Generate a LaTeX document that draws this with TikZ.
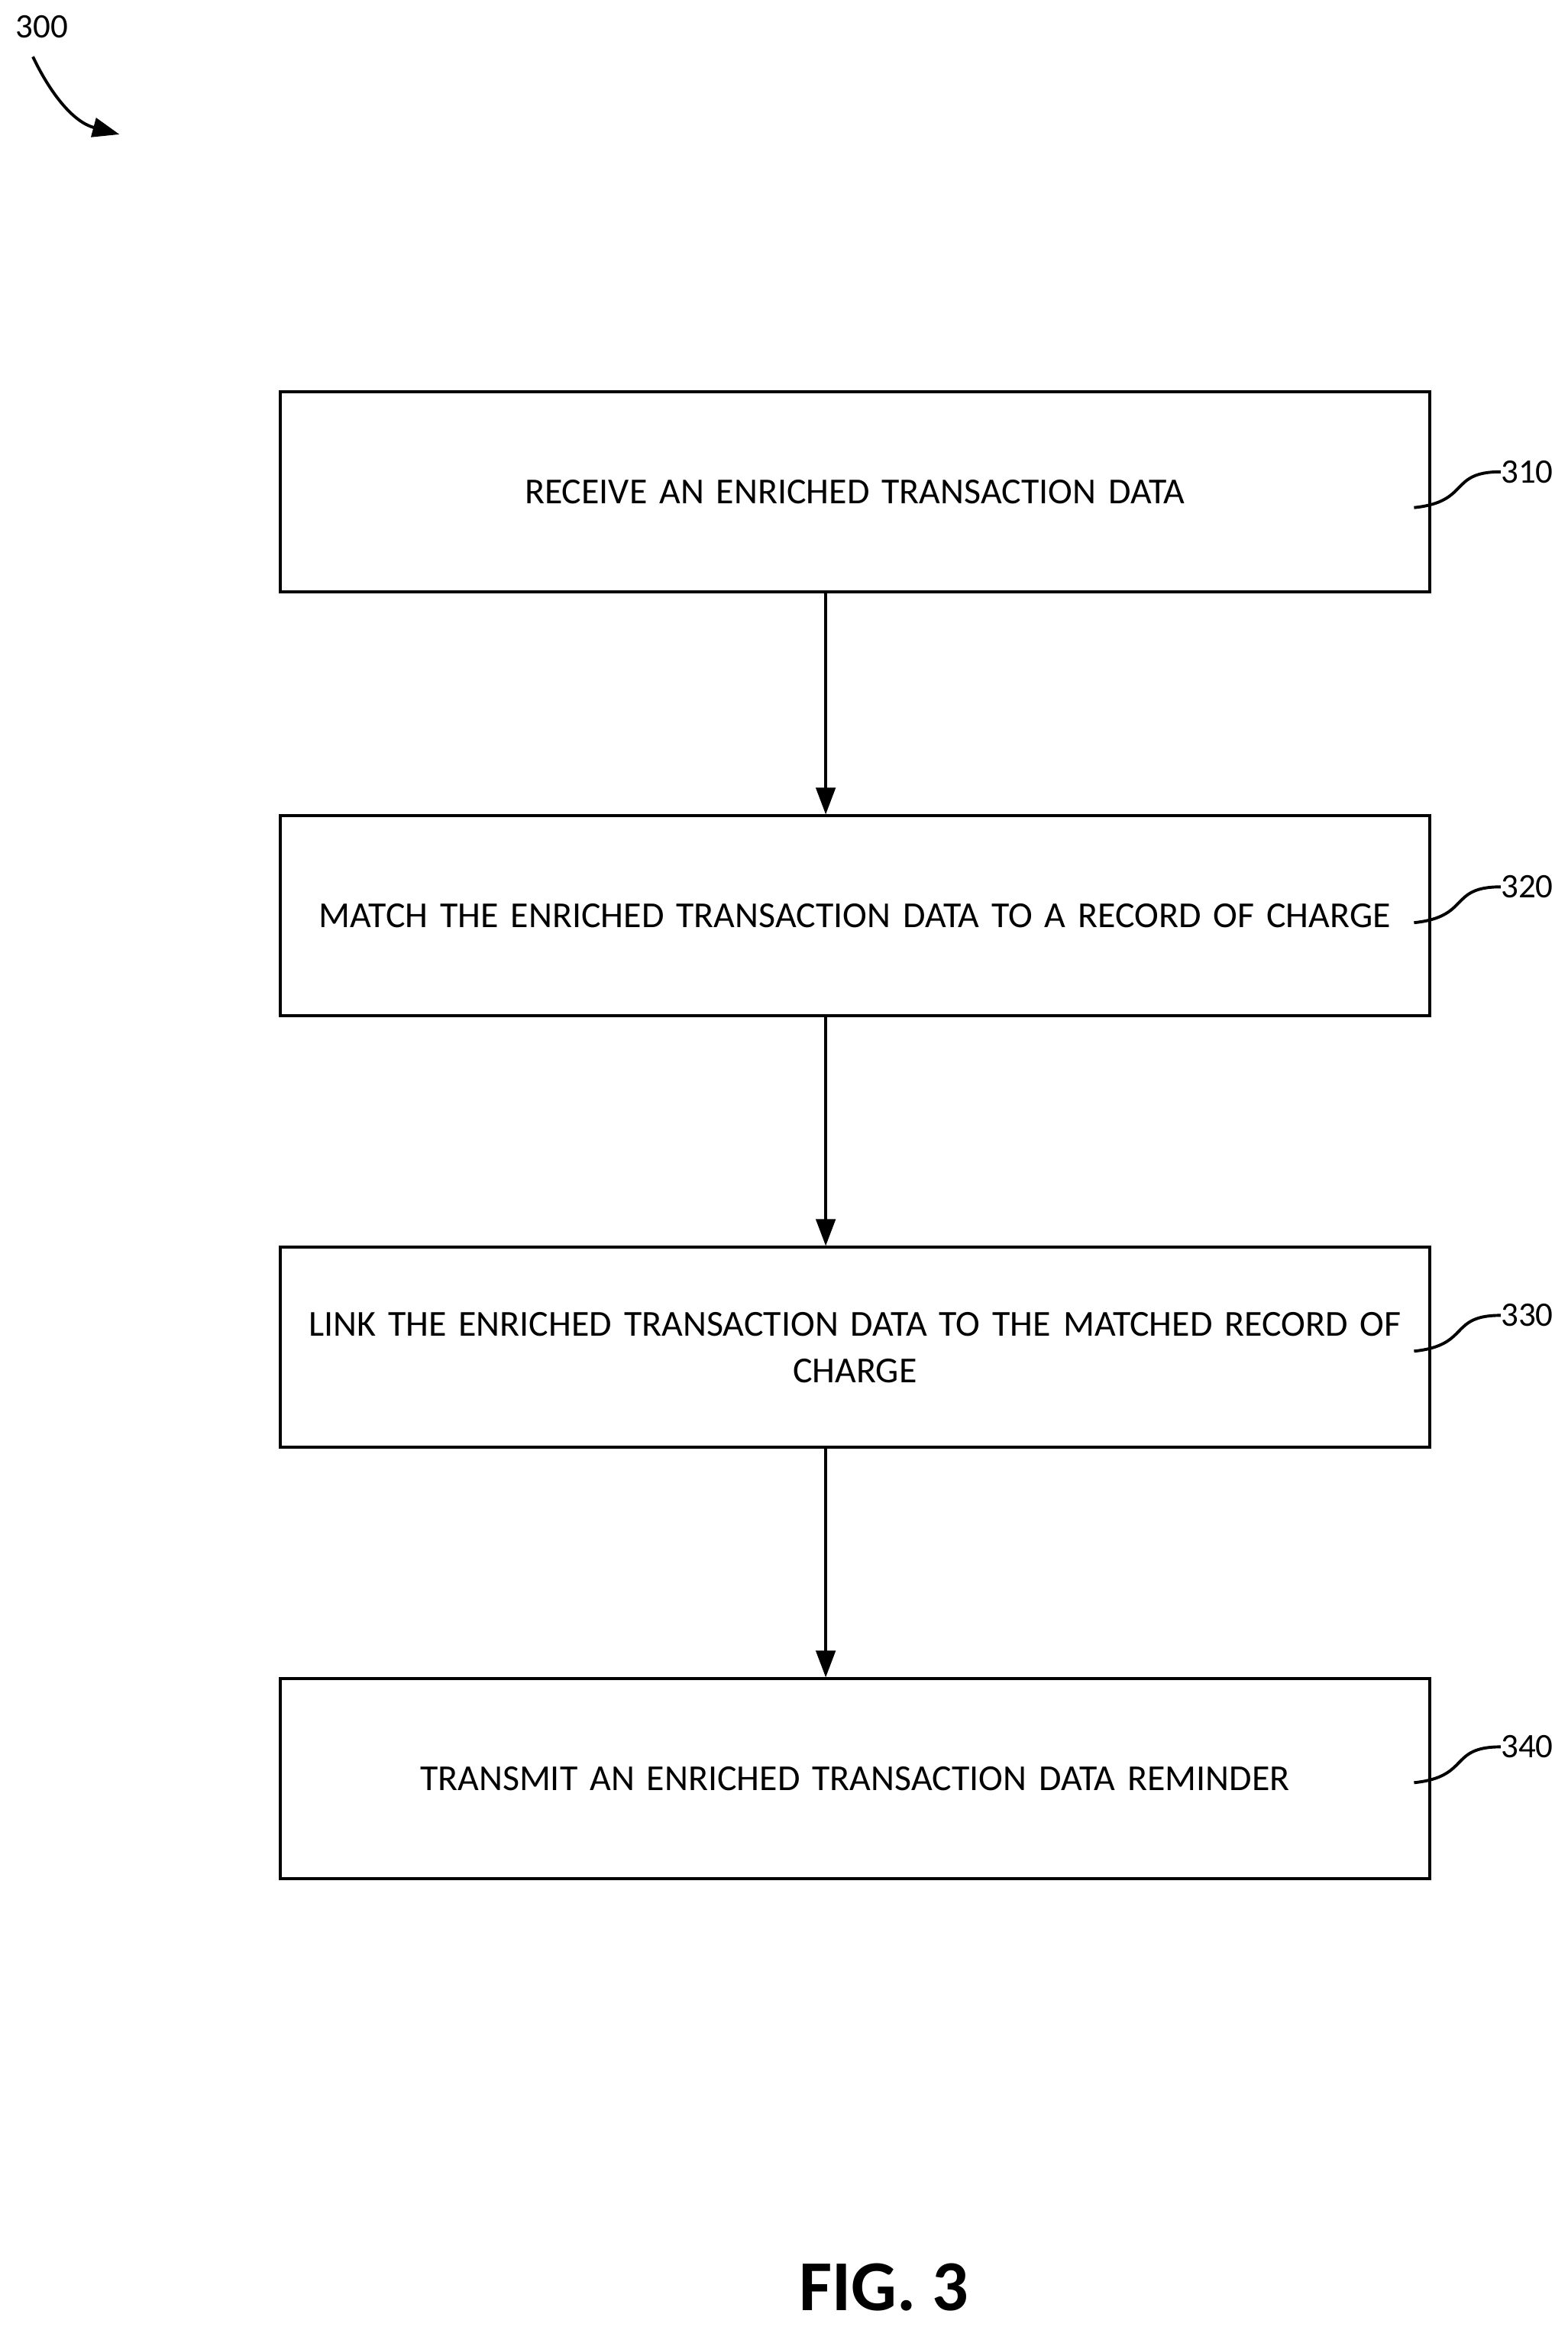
\documentclass[tikz,border=0pt]{standalone}
\usepackage{fontspec}
\setmainfont{Carlito}
\usetikzlibrary{arrows.meta}
\begin{document}
\begin{tikzpicture}[x=1pt,y=-1pt,
  box/.style={draw,line width=2pt,minimum width=770pt,minimum height=134pt,align=center,text width=760pt,font=\fontsize{24.5}{31}\selectfont,inner sep=0pt},
  arr/.style={-{Triangle[length=18pt,width=13pt]},line width=2pt},
  lab/.style={font=\fontsize{23}{26}\selectfont,anchor=west,inner sep=0pt},
  lead/.style={line width=2pt}]
\useasboundingbox (0,0) rectangle (1050,1560.6);
\node[box] (b1) at (572.5,329.5) {RECEIVE AN ENRICHED TRANSACTION DATA};
\node[box] (b2) at (572.5,613.5) {MATCH THE ENRICHED TRANSACTION DATA TO A RECORD OF CHARGE};
\node[box] (b3) at (572.5,902.5) {LINK THE ENRICHED TRANSACTION DATA TO THE MATCHED RECORD OF\\CHARGE};
\node[box] (b4) at (572.5,1191.5) {TRANSMIT AN ENRICHED TRANSACTION DATA REMINDER};
\draw[arr] (b1.south -| 553,0) -- (b2.north -| 553,0);
\draw[arr] (b2.south -| 553,0) -- (b3.north -| 553,0);
\draw[arr] (b3.south -| 553,0) -- (b4.north -| 553,0);
\foreach \b/\t/\y in {b1/310/316,b2/320/594,b3/330/881,b4/340/1170}{
  \node[lab] (l\t) at (1005,\y) {\t};
  \coordinate (s\t) at (947,\y+24);
  \draw[lead] (s\t) .. controls (985,\y+20) and (970,\y) .. (l\t.west);
}
\node[font=\fontsize{23}{26}\selectfont,inner sep=0pt] (n300) at (28,18) {300};
\coordinate (e300) at (80,90);
\draw[arr] (22,38) .. controls (35,65) and (50,82) .. (e300);
\node[font=\fontsize{48}{56}\selectfont\bfseries,inner sep=0pt] (fig) at (592,1532) {FIG. 3};
\end{tikzpicture}
\end{document}
